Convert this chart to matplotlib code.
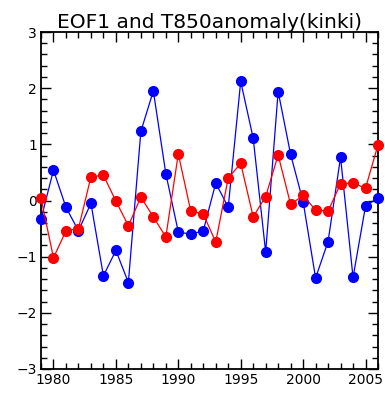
import matplotlib
matplotlib.use("Agg")
import matplotlib.pyplot as plt
from matplotlib.ticker import MultipleLocator

years = list(range(1979, 2007))
eof1 = [-0.33, 0.54, -0.12, -0.54, -0.05, -1.34, -0.89, -1.46, 1.23, 1.95,
        0.48, -0.56, -0.60, -0.54, 0.31, -0.12, 2.12, 1.11, -0.92, 1.94,
        0.82, -0.02, -1.38, -0.73, 0.77, -1.37, -0.10, 0.05]
t850 = [0.04, -1.02, -0.54, -0.50, 0.42, 0.45, -0.01, -0.45, 0.06, -0.29,
        -0.65, 0.83, -0.19, -0.24, -0.74, 0.40, 0.66, -0.29, 0.07, 0.81,
        -0.07, 0.09, -0.17, -0.19, 0.30, 0.31, 0.22, 0.99]
title = "EOF1 and T850anomaly(kinki)"
xticks = [1980, 1985, 1990, 1995, 2000, 2005]
yticks = [-3, -2, -1, 0, 1, 2, 3]

fig = plt.figure(figsize=(3.85, 3.94), dpi=100)
ax = fig.add_axes([41/385, 1 - 369/394, 337/385, 337/394])

ax.plot(years, eof1, color="#0000ff", lw=0.9, marker="o", ms=7.0,
        mec="#0000ff", mfc="#0000ff", clip_on=False, zorder=3)
ax.plot(years, t850, color="#ff0000", lw=0.9, marker="o", ms=7.0,
        mec="#ff0000", mfc="#ff0000", clip_on=False, zorder=4)

ax.set_xlim(1979, 2006)
ax.set_ylim(-3, 3)
ax.set_xticks(xticks)
ax.set_yticks(yticks)
ax.set_yticklabels([f"{v}".replace("-", "\u2212") for v in yticks])
ax.xaxis.set_minor_locator(MultipleLocator(1))
ax.yaxis.set_minor_locator(MultipleLocator(0.2))
ax.tick_params(which="both", direction="in", top=True, right=True,
               labelsize=10, colors="black", width=1.0)
ax.tick_params(which="major", length=7, pad=3)
ax.tick_params(which="minor", length=4)
for s in ax.spines.values():
    s.set_linewidth(1.3)

ax.set_title(title, fontsize=14.5, pad=3)

fig.savefig("out.png", dpi=100)
